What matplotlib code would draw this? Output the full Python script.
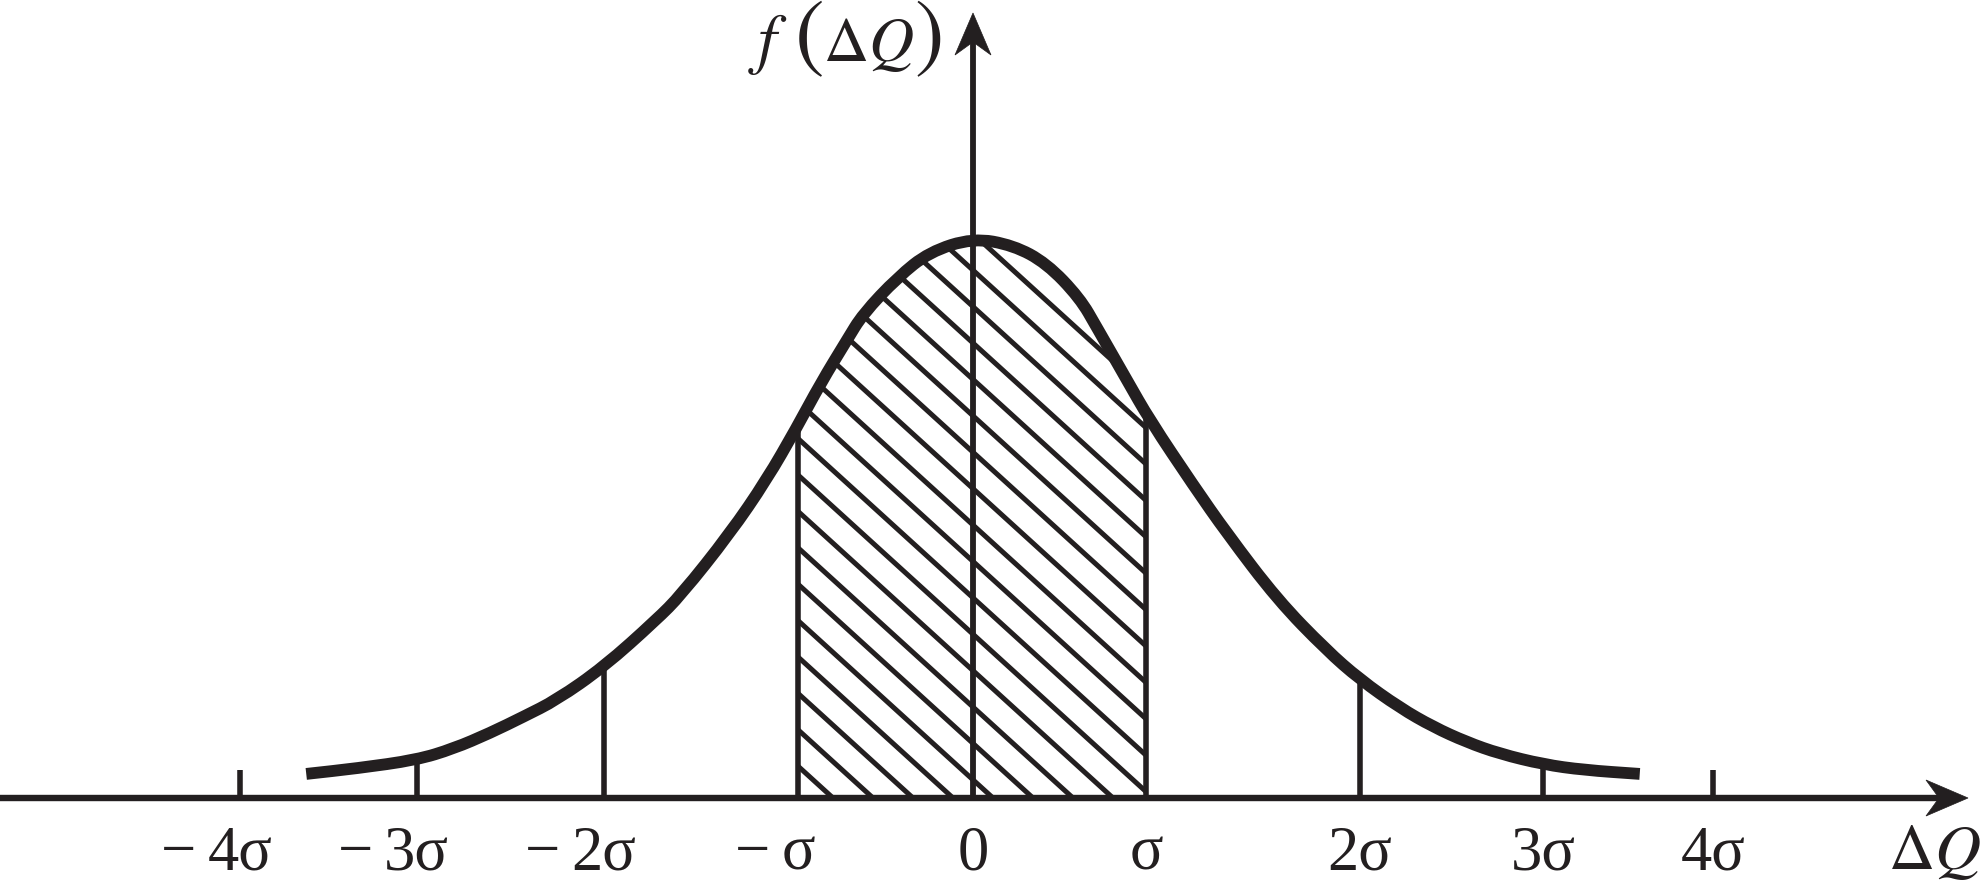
import numpy as np
import matplotlib
matplotlib.use("Agg")
import matplotlib.pyplot as plt
from matplotlib.patches import Polygon, PathPatch
from matplotlib.path import Path

INK = '#231f20'
plt.rcParams['mathtext.fontset'] = 'stix'
plt.rcParams['font.family'] = ['Liberation Serif', 'DejaVu Serif']

# curve: x in sigma units, y relative to the peak height
curve_x = [-3.81, -3.52, -3.18, -2.97, -2.76, -2.57, -2.38, -2.11, -1.81, -1.67,
           -1.39, -1.18, -1.01, -0.87, -0.72, -0.63, -0.43, -0.25, 0.0, 0.23,
           0.42, 0.61, 0.71, 0.88, 1.01, 1.26, 1.45, 1.74, 2.02, 2.21,
           2.44, 2.63, 2.82, 3.01, 3.26, 3.49, 3.81]
curve_y = [0.043, 0.053, 0.068, 0.088, 0.116, 0.145, 0.175, 0.234, 0.318, 0.362,
           0.472, 0.568, 0.660, 0.741, 0.818, 0.864, 0.930, 0.975, 1.0, 0.987,
           0.955, 0.893, 0.839, 0.746, 0.675, 0.558, 0.473, 0.354, 0.264, 0.212,
           0.161, 0.127, 0.100, 0.079, 0.060, 0.050, 0.043]

# tick marks as placed in the drawing
tick_pos = [-4.19, -3.18, -2.11, -1.0, 0.0, 0.99, 2.21, 3.26, 4.23]
tick_labels = ['−4σ', '−3σ', '−2σ', '−σ', '0', 'σ', '2σ', '3σ', '4σ']
short_tick = 0.05

# shaded band between -sigma and +sigma
band = (-1.0, 0.99)

# layout: pixel position of origin and scale of the drawing
W, H, DPI = 1986, 896, 100
X0, Y0 = 973, 798
SX, SY = 175.0, 560.0

fig = plt.figure(figsize=(W / DPI, H / DPI), dpi=DPI)
ax = fig.add_axes([0, 0, 1, 1])
ax.set_xlim(-X0 / SX, (W - X0) / SX)
ax.set_ylim((Y0 - H) / SY, Y0 / SY)
ax.set_axis_off()

cx = np.array(curve_x)
cy = np.array(curve_y)

# hatching, clipped to the area under the curve inside the band
lo, hi = band
inside = (cx > lo) & (cx < hi)
poly_x = np.concatenate([[lo, lo], cx[inside], [hi, hi]])
poly_y = np.concatenate([[0, np.interp(lo, cx, cy)], cy[inside], [np.interp(hi, cx, cy), 0]])
clip = Polygon(np.column_stack([poly_x, poly_y]), closed=True, transform=ax.transData,
               facecolor='none', edgecolor='none')
ax.add_patch(clip)

slope = 0.91 * SX / SY
step = 40 / SX
u0 = lo + 35 / SX
while u0 < hi + 1.0 / slope + 0.5:
    uu = np.array([u0 - 6, u0])
    ln, = ax.plot(uu, slope * (u0 - uu), color=INK, lw=3.6, solid_capstyle='butt', zorder=2)
    ln.set_clip_path(clip)
    u0 += step

# vertical lines up to the curve, short ticks where the curve has ended
for p in tick_pos:
    if p == 0:
        continue
    top = np.interp(p, cx, cy, left=short_tick, right=short_tick)
    ax.plot([p, p], [0, top], color=INK, lw=4.0, solid_capstyle='butt', zorder=3)

# axes with notched arrow heads
head_len, head_half, notch = 42, 18, 29
tip_x = (1968 - X0) / SX
ax.plot([-X0 / SX, tip_x - notch / SX], [0, 0], color=INK, lw=4.6, zorder=4)
ax.add_patch(Polygon([[tip_x, 0], [tip_x - head_len / SX, head_half / SY],
                      [tip_x - notch / SX, 0], [tip_x - head_len / SX, -head_half / SY]],
                     closed=True, facecolor=INK, edgecolor=INK, lw=0.5, zorder=4))
tip_y = (Y0 - 13) / SY
ax.plot([0, 0], [0, tip_y - notch / SY], color=INK, lw=4.2, zorder=4)
ax.add_patch(Polygon([[0, tip_y], [head_half / SX, tip_y - head_len / SY],
                      [0, tip_y - notch / SY], [-head_half / SX, tip_y - head_len / SY]],
                     closed=True, facecolor=INK, edgecolor=INK, lw=0.5, zorder=4))

# the distribution curve, drawn as a smooth path through the read points
pts = np.column_stack([cx, cy])
verts = [pts[0], (pts[0] + pts[1]) / 2]
codes = [Path.MOVETO, Path.LINETO]
for i in range(1, len(pts) - 1):
    verts += [pts[i], (pts[i] + pts[i + 1]) / 2]
    codes += [Path.CURVE3, Path.CURVE3]
verts.append(pts[-1])
codes.append(Path.LINETO)
ax.add_patch(PathPatch(Path(verts, codes), facecolor='none', edgecolor=INK, lw=8.5,
                       capstyle='butt', joinstyle='round', zorder=5))

# tick labels; the minus sits to the left of the centred part
base = (Y0 - 869) / SY
for p, lab in zip(tick_pos, tick_labels):
    body = lab.lstrip('−')
    t = ax.text(p, base, body, ha='center', va='baseline', fontsize=45, color=INK)
    if lab.startswith('−'):
        ax.annotate('−', xy=(0, base), xycoords=(t, 'data'), xytext=(-8, 0),
                    textcoords='offset points', ha='right', va='baseline',
                    fontsize=45, color=INK)

# y-axis title f(ΔQ) with tall parentheses, built from pieces
title_base = (Y0 - 61) / SY
pieces = [(748, r'$f$', 48), (794, r'$($', 64), (823, r'$\Delta Q$', 45), (914, r'$)$', 64)]
for px, s, fs in pieces:
    ax.text((px - X0) / SX, title_base, s, ha='left', va='baseline', fontsize=fs, color=INK)

ax.text((1888 - X0) / SX, base, r'$\Delta Q$', ha='left', va='baseline',
        fontsize=46, color=INK)

plt.savefig('out.png', dpi=DPI)
